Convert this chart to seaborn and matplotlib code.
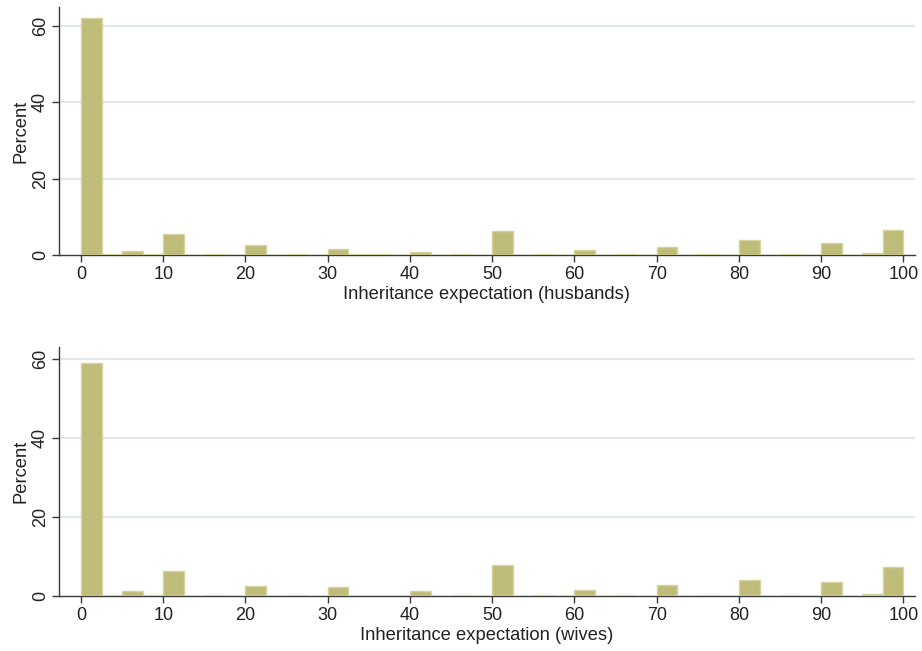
import numpy as np
import pandas as pd
import matplotlib
matplotlib.use("Agg")
import matplotlib.pyplot as plt
import seaborn as sns

# 40 bins of width 2.5 on 0-100, left edges
bin_left = [i * 2.5 for i in range(40)]

husbands_pct = [62.0, 0.3, 1.1, 0.3, 5.5, 0.0, 0.3, 0.0, 2.7, 0.0,
                0.3, 0.0, 1.65, 0.3, 0.3, 0.0, 0.8, 0.0, 0.3, 0.0,
                6.35, 0.0, 0.3, 0.0, 1.4, 0.0, 0.3, 0.0, 2.2, 0.0,
                0.3, 0.0, 4.0, 0.0, 0.3, 0.0, 3.2, 0.0, 0.6, 6.6]

wives_pct = [59.0, 0.25, 1.1, 0.25, 6.2, 0.0, 0.25, 0.0, 2.45, 0.0,
             0.25, 0.0, 2.1, 0.0, 0.0, 0.0, 1.1, 0.0, 0.25, 0.0,
             7.9, 0.0, 0.25, 0.0, 1.35, 0.0, 0.25, 0.0, 2.6, 0.0,
             0.25, 0.0, 3.9, 0.0, 0.25, 0.0, 3.4, 0.0, 0.4, 7.2]

x_ticks = [0, 10, 20, 30, 40, 50, 60, 70, 80, 90, 100]
y_ticks = [0, 20, 40, 60]

sns.set_style("white")
plt.rcParams['font.family'] = ['Liberation Sans', 'DejaVu Sans']

fill = "#bfbc7a"
edge = "#d6d49e"
axis_col = "#3a3a3a"

fig = plt.figure(figsize=(9.22, 6.51), dpi=100)
ax_top = fig.add_axes([0.0637, 0.6078, 0.9287, 0.3819])
ax_bot = fig.add_axes([0.0637, 0.0849, 0.9287, 0.3825])

panels = [(ax_top, husbands_pct, "Inheritance expectation (husbands)", 65),
          (ax_bot, wives_pct, "Inheritance expectation (wives)", 63)]

for ax, pct, label, ytop in panels:
    df = pd.DataFrame({"x": np.array(bin_left) + 1.25, "pct": pct})
    df = df[df["pct"] > 0]
    sns.histplot(data=df, x="x", weights="pct", binwidth=2.5, binrange=(0, 100),
                 color=fill, edgecolor=edge, linewidth=1.0, alpha=1, ax=ax,
                 zorder=3)
    ax.set_xlim(-2.7, 101.4)
    ax.set_ylim(0, ytop)
    ax.set_xticks(x_ticks)
    ax.set_yticks(y_ticks)
    ax.set_yticklabels([str(v) for v in y_ticks], rotation=90, va="center")
    for yv in y_ticks[1:]:
        ax.axhline(yv, color="#e1e9ed", linewidth=1.5, zorder=1)
    ax.set_xlabel(label, fontsize=13.2, color="#222222", labelpad=2)
    ax.set_ylabel("Percent", fontsize=13.2, color="#222222", labelpad=2)
    ax.tick_params(axis="both", direction="out", length=5, width=1,
                   color=axis_col, labelsize=13, labelcolor="#222222", pad=3)
    ax.tick_params(axis="x", bottom=True)
    ax.tick_params(axis="y", left=True, pad=2)
    for side in ["top", "right"]:
        ax.spines[side].set_visible(False)
    for side in ["left", "bottom"]:
        ax.spines[side].set_color(axis_col)
        ax.spines[side].set_linewidth(1)

fig.savefig("out.png", dpi=100)
